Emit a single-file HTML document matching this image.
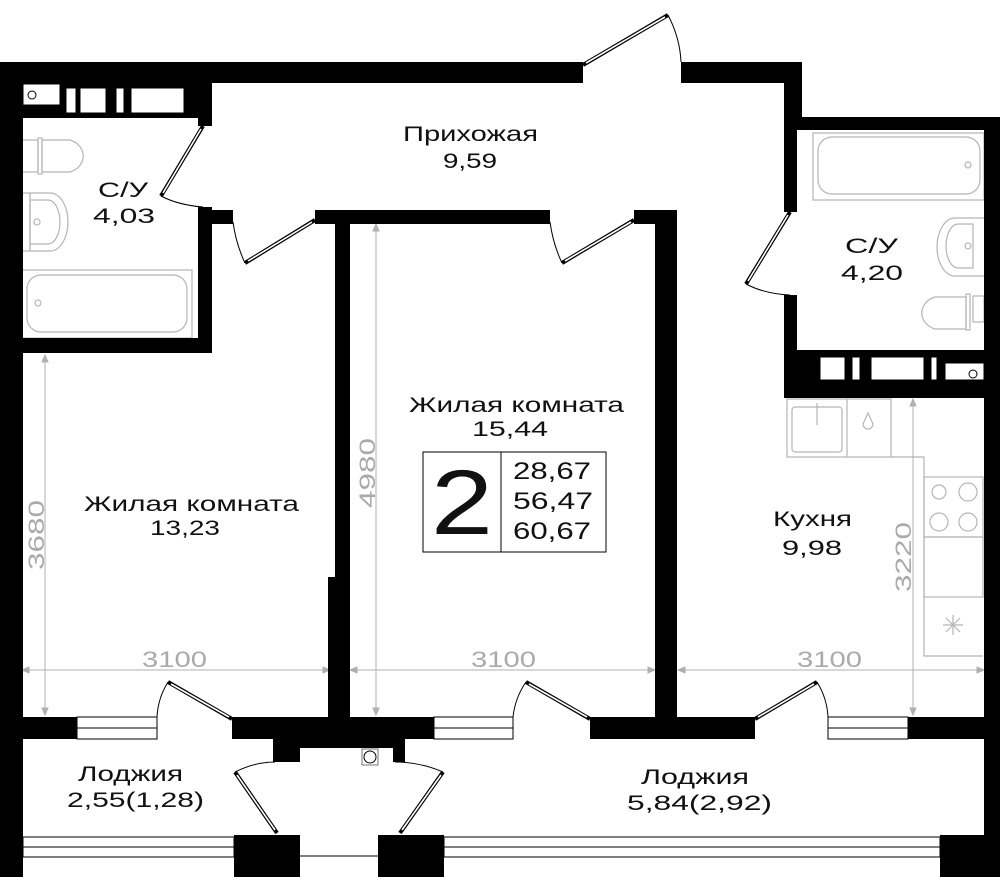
<!DOCTYPE html>
<html><head><meta charset="utf-8"><style>
html,body{margin:0;padding:0;background:#fff;}
svg{display:block;}
text{font-family:"Liberation Sans",sans-serif;fill:#111;}
.g{fill:#aaa;}
</style></head><body>
<svg width="1000" height="877" viewBox="0 0 1000 877" xmlns="http://www.w3.org/2000/svg">
<rect width="1000" height="877" fill="#fff"/>

<g fill="none" stroke="#b5b5b5" stroke-width="1.2">
  <rect x="22" y="140" width="16" height="32"/>
  <rect x="38" y="138" width="4" height="36"/>
  <path d="M42 140 H70 A20 17 0 0 1 70 172 H42 Z"/>
  <rect x="22" y="193" width="8" height="58"/>
  <path d="M30 193 H50 A18 29 0 0 1 50 251 H30 Z"/>
  <path d="M30 200 H48 A12 22 0 0 1 48 244 H30 Z"/>
  <circle cx="37" cy="222" r="3"/>
  <rect x="22" y="270" width="170" height="68"/>
  <rect x="27" y="275" width="160" height="57" rx="14"/>
  <circle cx="38" cy="303" r="3"/>
  <rect x="813" y="133" width="171" height="67"/>
  <rect x="818" y="137" width="162" height="57" rx="14"/>
  <circle cx="968" cy="165" r="3"/>
  <path d="M984 218 H955 A18 29 0 0 0 955 276 H984"/>
  <path d="M973 224 H958 A12 22 0 0 0 958 268 H973 Z"/>
  <circle cx="968" cy="246" r="3"/>
  <rect x="973" y="296" width="11" height="26"/>
  <rect x="966" y="294" width="4" height="36"/>
  <path d="M966 297 H935 A20 17 0 0 0 935 329 H966 Z"/>
  <rect x="787" y="399" width="104" height="58"/>
  <line x1="847" y1="399" x2="847" y2="457"/>
  <rect x="792" y="407" width="50" height="45" rx="3"/>
  <line x1="817" y1="403" x2="817" y2="425"/>
  <path d="M868 413 L863 424 A5 5 0 1 0 873 424 Z"/>
  <polyline points="891,457 924,457 924,656 983,656"/>
  <rect x="924" y="477" width="59" height="60"/>
  <rect x="924" y="537" width="59" height="60"/>
  <circle cx="939" cy="492" r="7"/><circle cx="968" cy="492" r="9"/>
  <circle cx="939" cy="522" r="9"/><circle cx="968" cy="522" r="9"/>
  <path d="M953 615 V635 M943 625 H963 M946 618 L960 632 M960 618 L946 632"/>
</g>

<g stroke="#b0b0b0" stroke-width="1" fill="#b0b0b0">
  <line x1="22" y1="670" x2="330" y2="670"/>
  <line x1="350" y1="670" x2="655" y2="670"/>
  <line x1="678" y1="670" x2="984" y2="670"/>
  <line x1="45" y1="355" x2="45" y2="715"/>
  <line x1="376" y1="224" x2="376" y2="715"/>
  <line x1="913" y1="399" x2="913" y2="715"/>
  <path d="M22 670 l7 -3 v6z M330 670 l-7 -3 v6z M350 670 l7 -3 v6z M655 670 l-7 -3 v6z M678 670 l7 -3 v6z M984 670 l-7 -3 v6z"/>
  <path d="M45 355 l-3 7 h6z M45 715 l-3 -7 h6z M376 224 l-3 7 h6z M376 715 l-3 -7 h6z M913 399 l-3 7 h6z M913 715 l-3 -7 h6z"/>
</g>
<g font-size="22" class="g" lengthAdjust="spacingAndGlyphs">
  <text x="142" y="667" class="g" textLength="65" lengthAdjust="spacingAndGlyphs">3100</text>
  <text x="471" y="667" class="g" textLength="65" lengthAdjust="spacingAndGlyphs">3100</text>
  <text x="797" y="667" class="g" textLength="65" lengthAdjust="spacingAndGlyphs">3100</text>
  <text transform="translate(44,570) rotate(-90)" class="g" textLength="70" lengthAdjust="spacingAndGlyphs">3680</text>
  <text transform="translate(375,508) rotate(-90)" class="g" textLength="70" lengthAdjust="spacingAndGlyphs">4980</text>
  <text transform="translate(911,592) rotate(-90)" class="g" textLength="70" lengthAdjust="spacingAndGlyphs">3220</text>
</g>

<g fill="#000">
  <rect x="0" y="62" width="583" height="21"/>
  <rect x="681" y="62" width="121" height="21"/>
  <rect x="784" y="62" width="18" height="55"/>
  <rect x="784" y="117" width="216" height="13"/>
  <rect x="984" y="117" width="16" height="760"/>
  <rect x="0" y="62" width="23" height="815"/>
  <rect x="22" y="83" width="176" height="35"/>
  <rect x="198" y="83" width="14" height="43"/>
  <rect x="198" y="207" width="14" height="146"/>
  <rect x="22" y="338" width="190" height="15"/>
  <rect x="212" y="210" width="21" height="14"/>
  <rect x="315" y="210" width="235" height="14"/>
  <rect x="634" y="210" width="43" height="14"/>
  <rect x="655" y="210" width="22" height="507"/>
  <rect x="335" y="224" width="15" height="493"/>
  <rect x="328" y="577" width="22" height="140"/>
  <rect x="784" y="117" width="13" height="95"/>
  <rect x="784" y="295" width="13" height="103"/>
  <rect x="784" y="350" width="200" height="48"/>
  <rect x="0" y="717" width="77" height="22"/>
  <rect x="232" y="717" width="202" height="22"/>
  <rect x="590" y="717" width="165" height="22"/>
  <rect x="908" y="717" width="92" height="22"/>
  <rect x="273" y="739" width="132" height="9"/>
  <rect x="273" y="739" width="27" height="23"/>
  <rect x="393" y="739" width="12" height="23"/>
  <rect x="234" y="835" width="66" height="42"/>
  <rect x="378" y="835" width="66" height="42"/>
  <rect x="940" y="835" width="60" height="42"/>
</g>

<g fill="#fff" stroke="#000" stroke-width="1">
  <rect x="23" y="84" width="37" height="21"/>
  <rect x="66" y="88" width="10" height="25"/>
  <rect x="80" y="88" width="26" height="25"/>
  <rect x="116" y="88" width="8" height="25"/>
  <rect x="131" y="88" width="53" height="25"/>
  <rect x="820" y="357" width="25" height="23"/>
  <rect x="852" y="357" width="8" height="23"/>
  <rect x="871" y="357" width="53" height="23"/>
  <rect x="931" y="357" width="6" height="23"/>
  <rect x="945" y="363" width="39" height="17"/>
  <rect x="362" y="749" width="16" height="16" stroke="#777"/>
</g>
<g fill="none" stroke="#000" stroke-width="1">
  <circle cx="32" cy="95" r="4"/>
  <circle cx="973" cy="374" r="4"/>
  <circle cx="370" cy="757" r="6"/>
</g>

<g fill="#fff" stroke="#000" stroke-width="1">
  <rect x="77" y="717" width="80" height="22"/><line x1="77" y1="728" x2="157" y2="728"/>
  <rect x="434" y="717" width="79" height="22"/><line x1="434" y1="728" x2="513" y2="728"/>
  <rect x="828" y="717" width="80" height="22"/><line x1="828" y1="728" x2="908" y2="728"/>
  <rect x="23" y="837" width="211" height="20"/><line x1="23" y1="847" x2="234" y2="847"/>
  <rect x="444" y="837" width="496" height="20"/><line x1="444" y1="847" x2="940" y2="847"/>
  <line x1="300" y1="856" x2="378" y2="856"/>
</g>

<g stroke="#000" stroke-width="4">
  <line x1="203" y1="126" x2="161" y2="196"/>
  <line x1="315" y1="220" x2="245" y2="263"/>
  <line x1="634" y1="220" x2="562" y2="263"/>
  <line x1="583" y1="65" x2="668" y2="15"/>
  <line x1="790" y1="212" x2="746" y2="284"/>
  <line x1="232" y1="719" x2="168" y2="682"/>
  <line x1="590" y1="719" x2="526" y2="682"/>
  <line x1="755" y1="719" x2="817" y2="682"/>
  <line x1="277" y1="833" x2="235" y2="772"/>
  <line x1="400" y1="833" x2="443" y2="772"/>
</g>
<g stroke="#fff" stroke-width="1.6">
  <line x1="201" y1="129" x2="163" y2="193"/>
  <line x1="312" y1="222" x2="248" y2="261"/>
  <line x1="631" y1="222" x2="565" y2="261"/>
  <line x1="586" y1="63" x2="665" y2="17"/>
  <line x1="788" y1="215" x2="748" y2="281"/>
  <line x1="229" y1="717" x2="171" y2="684"/>
  <line x1="587" y1="717" x2="529" y2="684"/>
  <line x1="758" y1="717" x2="814" y2="684"/>
  <line x1="275" y1="830" x2="237" y2="775"/>
  <line x1="402" y1="830" x2="441" y2="775"/>
</g>
<g fill="none" stroke="#000" stroke-width="1">
  <path d="M161 196 Q178 205 203 207"/>
  <path d="M245 263 Q236 244 233 222"/>
  <path d="M562 263 Q553 244 550 222"/>
  <path d="M668 15 Q680 38 681 62"/>
  <path d="M746 284 Q765 294 790 295"/>
  <path d="M168 682 Q158 698 157 717"/>
  <path d="M526 682 Q515 698 513 717"/>
  <path d="M817 682 Q827 698 828 717"/>
  <path d="M235 772 Q255 762 275 762"/>
  <path d="M443 772 Q420 762 395 762"/>
</g>

<g font-size="21">
  <text x="403" y="141" textLength="135" lengthAdjust="spacingAndGlyphs">Прихожая</text>
  <text x="443" y="168" textLength="54" lengthAdjust="spacingAndGlyphs">9,59</text>
  <text x="98" y="197" textLength="50" lengthAdjust="spacingAndGlyphs">С/У</text>
  <text x="93" y="223" textLength="62" lengthAdjust="spacingAndGlyphs">4,03</text>
  <text x="845" y="253" textLength="53" lengthAdjust="spacingAndGlyphs">С/У</text>
  <text x="841" y="280" textLength="62" lengthAdjust="spacingAndGlyphs">4,20</text>
  <text x="84" y="511" textLength="215" lengthAdjust="spacingAndGlyphs">Жилая комната</text>
  <text x="150" y="535" textLength="70" lengthAdjust="spacingAndGlyphs">13,23</text>
  <text x="409" y="412" textLength="215" lengthAdjust="spacingAndGlyphs">Жилая комната</text>
  <text x="472" y="436" textLength="76" lengthAdjust="spacingAndGlyphs">15,44</text>
  <text x="773" y="526" textLength="79" lengthAdjust="spacingAndGlyphs">Кухня</text>
  <text x="782" y="555" textLength="60" lengthAdjust="spacingAndGlyphs">9,98</text>
  <text x="78" y="781" textLength="105" lengthAdjust="spacingAndGlyphs">Лоджия</text>
  <text x="67" y="807" textLength="137" lengthAdjust="spacingAndGlyphs">2,55(1,28)</text>
  <text x="641" y="784" textLength="108" lengthAdjust="spacingAndGlyphs">Лоджия</text>
  <text x="627" y="810" textLength="145" lengthAdjust="spacingAndGlyphs">5,84(2,92)</text>
</g>

<rect x="423" y="452" width="183" height="100" fill="none" stroke="#000" stroke-width="1"/>
<line x1="501" y1="452" x2="501" y2="552" stroke="#000" stroke-width="1"/>
<text x="431" y="534" font-size="92" textLength="62" lengthAdjust="spacingAndGlyphs">2</text>
<g font-size="24">
  <text x="513" y="479" textLength="78" lengthAdjust="spacingAndGlyphs">28,67</text>
  <text x="513" y="509" textLength="80" lengthAdjust="spacingAndGlyphs">56,47</text>
  <text x="513" y="539" textLength="78" lengthAdjust="spacingAndGlyphs">60,67</text>
</g>
</svg>
</body></html>
